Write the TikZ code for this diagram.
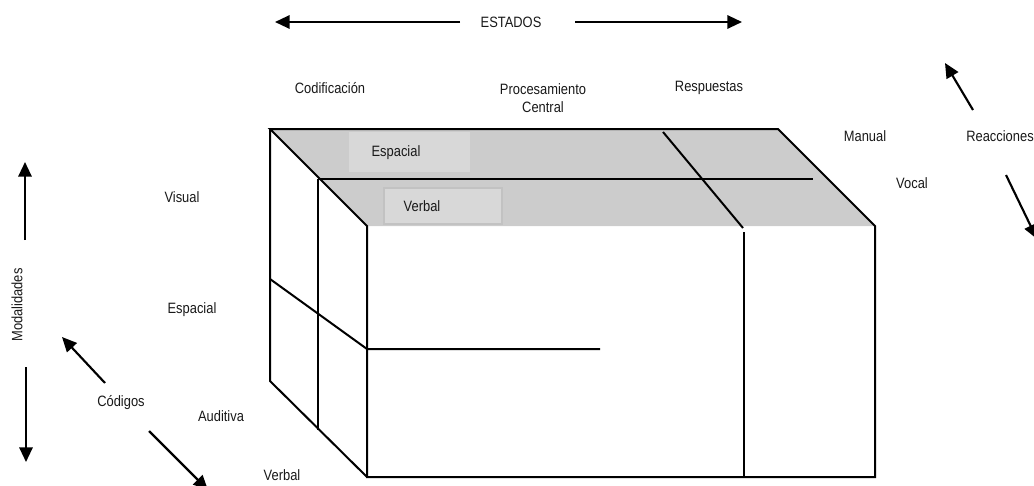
\documentclass[tikz,border=0pt]{standalone}
\usepackage{fontspec}
\setmainfont[FakeStretch=0.86]{Liberation Sans}
\usetikzlibrary{arrows.meta}
\definecolor{topgray}{HTML}{CCCCCC}
\definecolor{tabgray}{HTML}{D8D8D8}
\definecolor{tabedge}{HTML}{C2C2C2}
\tikzset{
  edge/.style={line width=1.5pt, line join=miter},
  bigarrow/.style={line width=1.6pt, -{Triangle[length=11pt, width=10pt]}},
  lbl/.style={inner sep=0pt, font=\fontsize{11.25}{13.5}\selectfont, text=black!90},
  tab/.style={inner sep=0pt},
}
\begin{document}
\begin{tikzpicture}[x=0.75pt, y=-0.75pt]
  \useasboundingbox (0,0) rectangle (1034,485);
  \clip (0,0) rectangle (1034,485);

  % corners of the block
  \coordinate (tbl) at (270,129);
  \coordinate (tbr) at (778,129);
  \coordinate (tfr) at (875,226);
  \coordinate (tfl) at (367,226);
  \coordinate (bfl) at (367,477);
  \coordinate (bfr) at (875,477);
  \coordinate (lbb) at (270,381);

  % shaded top face
  \fill[topgray] (tbl) -- (tbr) -- (tfr) -- (tfl) -- cycle;

  % tabs on the top face
  \node[tab, fill=tabgray, minimum width=121*0.75pt, minimum height=40*0.75pt, anchor=north west] (tabesp) at (349,132) {};
  \node[tab, fill=tabgray, draw=tabedge, line width=1.2pt, minimum width=118*0.75pt, minimum height=36*0.75pt, anchor=north west] (tabverb) at (383,187) {};
  \node[lbl] (tesp) at (396,153) {Espacial};
  \node[lbl] (tverb) at (422,206) {Verbal};

  % outline of the block
  \draw[edge] (tbl) -- (tbr) -- (tfr) -- (bfr) -- (bfl) -- (tfl) -- cycle;
  \draw[edge] (tfl) -- (bfl);
  \draw[edge] (tbl) -- (lbb) -- (bfl);

  % inner divisions
  \coordinate (m1) at (318,179);
  \coordinate (m1e) at (813,179);
  \coordinate (m1b) at (318,430);
  \draw[edge] (m1) -- (m1e);
  \draw[edge] (m1) -- (m1b);
  \coordinate (s1) at (270,279);
  \coordinate (s2) at (367,349);
  \coordinate (s3) at (600,349);
  \draw[edge] (s1) -- (s2) -- (s3);
  \coordinate (r1) at (663,132);
  \coordinate (r2) at (743,228);
  \coordinate (r3) at (744,232);
  \coordinate (r4) at (744,477);
  \draw[edge] (r1) -- (r2);
  \draw[edge] (r3) -- (r4);

  % top heading
  \node[lbl] (estados) at (511,22) {ESTADOS};
  \coordinate (estL) at (275,22);
  \coordinate (estR) at (742,22);
  \draw[bigarrow] (460,22) -- (estL);
  \draw[bigarrow] (575,22) -- (estR);

  \node[lbl] (cod) at (330,88) {Codificación};
  \node[lbl, align=center] (proc) at (543,98) {Procesamiento\\Central};
  \node[lbl] (resp) at (709,88) {Respuestas};

  % right side
  \node[lbl] (manual) at (865,136) {Manual};
  \node[lbl] (reac) at (1000,136) {Reacciones};
  \node[lbl] (vocal) at (912,183) {Vocal};
  \coordinate (reacU) at (945,63);
  \coordinate (reacD) at (1037,239);
  \draw[bigarrow] (973,110) -- (reacU);
  \draw[bigarrow] (1006,175) -- (reacD);

  % left side
  \node[lbl] (visual) at (182,197) {Visual};
  \node[lbl] (espl) at (192,310) {Espacial};
  \node[lbl] (aud) at (221,416) {Auditiva};
  \node[lbl] (verbl) at (282,475) {Verbal};
  \node[lbl] (codigos) at (121,403) {Códigos};
  \coordinate (codU) at (62,337);
  \coordinate (codD) at (208,490);
  \draw[bigarrow] (105,383) -- (codU);
  \draw[bigarrow] (149,431) -- (codD);

  \node[lbl, rotate=90] (modal) at (17,305) {Modalidades};
  \coordinate (modU) at (25,162);
  \coordinate (modD) at (26,462);
  \draw[bigarrow] (25,240) -- (modU);
  \draw[bigarrow] (26,367) -- (modD);
\end{tikzpicture}
\end{document}
